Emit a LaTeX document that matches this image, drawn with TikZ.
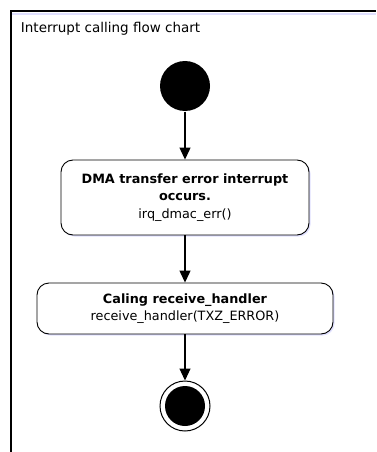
\documentclass[tikz,border=0pt]{standalone}
\usepackage{fontspec}
\setmainfont{DejaVu Sans}
\usetikzlibrary{arrows.meta,shadows}

\begin{document}
\begin{tikzpicture}[x=1pt,y=-1pt,->,>={Triangle[width=11pt,length=12pt]},line width=1.2pt]
   \useasboundingbox (0,0) rectangle (376,452);
   \tikzstyle{state}=[rectangle, rounded corners=12pt, draw=black, line width=0.9pt, fill=white, align=center, inner sep=0pt, font=\fontsize{12.8}{17.5}\selectfont, drop shadow={shadow xshift=1.5pt, shadow yshift=-1.5pt, fill=blue!12, opacity=1}]
   \tikzstyle{dot}=[circle, fill=black, inner sep=0pt]
   % frame
   \draw[-,blue!12,line width=2pt] (12,14) -- (376,14);
   \draw[-,line width=1.5pt] (11,452) -- (11,11) -- (376,11);
   \node[anchor=base west, font=\fontsize{13.5}{15}\selectfont] (title) at (17,33) {Interrupt calling flow chart};
   \node[dot, minimum size=50pt] (start) at (185,86) {};
   \node[state, minimum width=248pt, minimum height=75pt] (dma) at (185,197.5) {\textbf{DMA transfer error interrupt}\\\textbf{occurs.}\\irq\_dmac\_err()};
   \node[state, minimum width=296pt, minimum height=51pt] (handler) at (185,308.5) {\textbf{Caling receive\_handler}\\receive\_handler(TXZ\_ERROR)};
   \node[circle, draw=black, line width=1pt, fill=white, minimum size=50pt, inner sep=0pt] (stop) at (185,406) {};
   \node[dot, minimum size=40pt] (stopdot) at (stop) {};
   \path (start) edge (dma);
   \path (dma) edge (handler);
   \path (handler) edge (stop);
\end{tikzpicture}
\end{document}
